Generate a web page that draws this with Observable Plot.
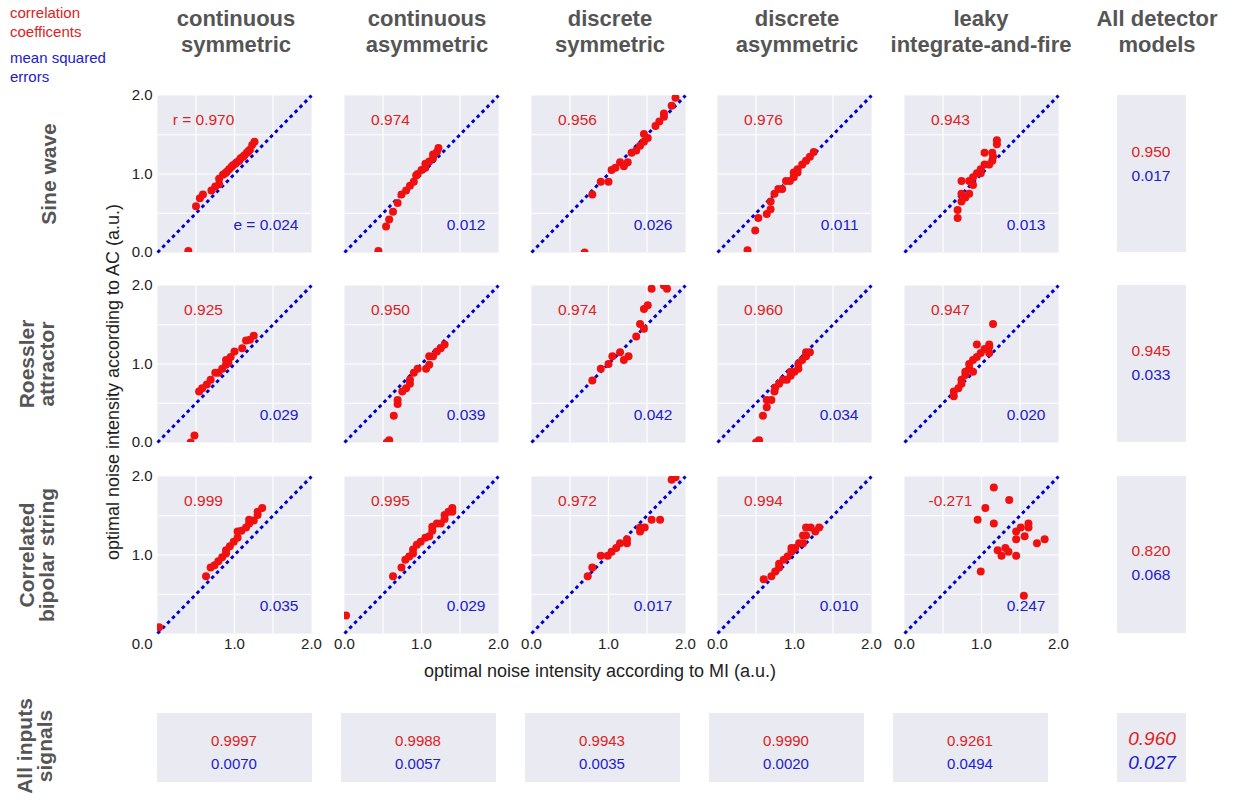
<!DOCTYPE html>
<html>
<head>
<meta charset="utf-8">
<script src="https://cdn.jsdelivr.net/npm/d3@7"></script>
<script src="https://cdn.jsdelivr.net/npm/@observablehq/plot@0.6"></script>
<style>
  html, body { margin: 0; padding: 0; background: #fff; }
  #root { position: relative; width: 1237px; height: 800px; overflow: hidden; font-family: "Liberation Sans", Arial, sans-serif; }
  .abs { position: absolute; white-space: nowrap; }
  .rot { transform: translate(-50%, -50%) rotate(-90deg); text-align: center; }
  .box { position: absolute; background: #EAEAF2; }
  svg { max-width: none !important; }
</style>
</head>
<body>
<div id="root"></div>
<script>
// ---------------- data ----------------
const signals = ["Sine wave", "Roessler\nattractor", "Correlated\nbipolar string"];
const models = ["continuous\nsymmetric", "continuous\nasymmetric", "discrete\nsymmetric", "discrete\nasymmetric", "leaky\nintegrate-and-fire"];
const axisTickValues = [0, 1, 2];
const gridValues = [0.5, 1, 1.5];
const diagonal = [0, 2];

// points: [optimal noise by MI, optimal noise by AC]
const sineContSym = [[0.40,0.02],[0.50,0.59],[0.55,0.69],[0.59,0.74],[0.70,0.79],[0.75,0.84],[0.80,0.87],[0.80,0.94],[0.85,0.99],[0.88,1.01],[0.90,1.03],[0.93,1.06],[0.96,1.09],[0.98,1.11],[1.01,1.13],[1.03,1.15],[1.06,1.17],[1.08,1.20],[1.11,1.22],[1.13,1.24],[1.16,1.27],[1.18,1.29],[1.20,1.31],[1.23,1.37],[1.26,1.41]];
const sineContAsym = [[0.44,0.02],[0.54,0.33],[0.58,0.42],[0.63,0.52],[0.69,0.63],[0.74,0.74],[0.80,0.79],[0.85,0.85],[0.90,0.90],[0.93,0.98],[0.95,1.00],[1.00,1.05],[1.05,1.08],[1.05,1.13],[1.10,1.16],[1.15,1.20],[1.15,1.25],[1.20,1.28],[1.22,1.33]];
const sineDiscSym = [[0.69,0.00],[0.79,0.74],[0.90,0.90],[1.00,0.90],[1.04,1.05],[1.09,1.08],[1.15,1.15],[1.20,1.10],[1.25,1.15],[1.30,1.27],[1.36,1.30],[1.41,1.36],[1.46,1.51],[1.46,1.41],[1.51,1.46],[1.61,1.61],[1.66,1.67],[1.72,1.73],[1.72,1.77],[1.82,1.87],[1.87,1.97]];
const sineDiscAsym = [[0.39,0.03],[0.49,0.28],[0.53,0.44],[0.64,0.49],[0.69,0.55],[0.69,0.65],[0.74,0.75],[0.79,0.81],[0.84,0.81],[0.89,0.91],[0.94,0.91],[0.99,0.96],[0.99,1.02],[1.04,1.06],[1.04,1.02],[1.10,1.12],[1.15,1.17],[1.20,1.22],[1.25,1.28]];
const sineLIF = [[0.69,0.44],[0.69,0.54],[0.74,0.65],[0.74,0.75],[0.74,0.91],[0.79,0.70],[0.84,0.75],[0.84,0.91],[0.89,0.86],[0.89,0.96],[0.94,1.01],[0.99,1.06],[0.99,1.01],[1.04,1.12],[1.04,1.27],[1.10,1.12],[1.14,1.17],[1.15,1.22],[1.14,1.27],[1.20,1.38],[1.20,1.43]];

const roessContSym = [[0.43,0.00],[0.48,0.09],[0.54,0.65],[0.58,0.69],[0.64,0.74],[0.69,0.80],[0.75,0.89],[0.79,0.89],[0.84,0.94],[0.89,0.99],[0.89,1.05],[0.92,1.02],[0.95,1.09],[1.00,1.16],[1.10,1.20],[1.15,1.30],[1.20,1.31],[1.25,1.36]];
const roessContAsym = [[0.55,0.00],[0.58,0.03],[0.64,0.34],[0.69,0.49],[0.69,0.54],[0.75,0.65],[0.80,0.69],[0.85,0.75],[0.85,0.80],[0.90,0.89],[0.95,0.94],[1.06,0.94],[1.10,0.99],[1.10,1.10],[1.15,1.10],[1.20,1.16],[1.25,1.20],[1.30,1.25]];
const roessDiscSym = [[0.79,0.79],[0.90,0.94],[1.00,1.00],[1.05,1.10],[1.15,1.15],[1.20,1.05],[1.26,1.10],[1.36,1.35],[1.41,1.51],[1.46,1.45],[1.46,1.70],[1.51,1.75],[1.56,1.96],[1.72,2.00],[1.76,1.96]];
const roessDiscAsym = [[0.50,0.00],[0.54,0.03],[0.59,0.34],[0.64,0.45],[0.64,0.54],[0.70,0.54],[0.74,0.65],[0.75,0.70],[0.80,0.75],[0.85,0.80],[0.90,0.80],[0.95,0.85],[0.95,0.90],[1.00,0.90],[1.05,0.94],[1.05,1.00],[1.10,1.05],[1.15,1.10],[1.15,1.15],[1.20,1.15]];
const roessLIF = [[0.64,0.59],[0.64,0.65],[0.70,0.69],[0.74,0.75],[0.74,0.80],[0.79,0.86],[0.79,0.90],[0.84,0.94],[0.84,1.00],[0.89,0.90],[0.89,1.05],[0.94,1.09],[0.94,1.25],[0.99,1.14],[1.04,1.19],[1.10,1.22],[1.10,1.14],[1.10,1.25],[1.15,1.51]];

const bipContSym = [[0.02,0.08],[0.63,0.73],[0.69,0.84],[0.74,0.87],[0.79,0.92],[0.84,0.97],[0.89,1.06],[0.89,1.02],[0.94,1.11],[0.99,1.17],[1.04,1.22],[1.04,1.30],[1.09,1.31],[1.15,1.35],[1.19,1.40],[1.19,1.45],[1.25,1.44],[1.30,1.51],[1.30,1.55],[1.36,1.60]];
const bipContAsym = [[0.02,0.23],[0.63,0.73],[0.74,0.84],[0.79,0.94],[0.84,0.98],[0.89,1.07],[0.89,1.02],[0.94,1.13],[0.99,1.17],[1.05,1.22],[1.10,1.24],[1.14,1.31],[1.14,1.36],[1.20,1.40],[1.25,1.40],[1.30,1.46],[1.30,1.51],[1.35,1.55],[1.40,1.60],[1.40,1.55]];
const bipDiscSym = [[0.73,0.73],[0.79,0.84],[0.90,0.99],[0.99,0.99],[1.04,1.04],[1.10,1.09],[1.15,1.15],[1.24,1.15],[1.24,1.20],[1.41,1.30],[1.41,1.35],[1.47,1.35],[1.56,1.45],[1.67,1.45],[1.82,1.96],[1.87,1.99]];
const bipDiscAsym = [[0.60,0.69],[0.70,0.73],[0.75,0.79],[0.80,0.84],[0.80,0.89],[0.86,0.94],[0.91,0.98],[0.96,1.04],[0.96,1.09],[1.01,1.09],[1.06,1.15],[1.11,1.15],[1.11,1.25],[1.15,1.25],[1.15,1.35],[1.21,1.35],[1.27,1.30],[1.32,1.35]];
const bipLIF = [[0.95,1.45],[0.99,0.79],[1.05,1.60],[1.16,1.86],[1.16,1.40],[1.21,1.06],[1.26,0.99],[1.31,1.09],[1.35,1.04],[1.36,1.70],[1.45,1.30],[1.45,1.20],[1.45,0.99],[1.51,1.35],[1.55,0.48],[1.56,1.24],[1.61,1.40],[1.61,1.35],[1.72,1.15],[1.82,1.20]];

// correlation coefficients (r) and mean squared errors (e) per signal row
const corrSine = [0.970, 0.974, 0.956, 0.976, 0.943];
const mseSine = [0.024, 0.012, 0.026, 0.011, 0.013];
const corrRoessler = [0.925, 0.950, 0.974, 0.960, 0.947];
const mseRoessler = [0.029, 0.039, 0.042, 0.034, 0.020];
const corrBipolar = [0.999, 0.995, 0.972, 0.994, -0.271];
const mseBipolar = [0.035, 0.029, 0.017, 0.010, 0.247];

// summaries
const corrAllModels = [0.950, 0.945, 0.820];
const mseAllModels = [0.017, 0.033, 0.068];
const corrAllSignals = [0.9997, 0.9988, 0.9943, 0.9990, 0.9261];
const mseAllSignals = [0.0070, 0.0057, 0.0035, 0.0020, 0.0494];
const corrGrand = 0.960;
const mseGrand = 0.027;

// ---------------- layout ----------------
const FONT = "'Liberation Sans', Arial, sans-serif";
const RED = "#dd2222";
const BLUE = "#2020cc";
const BG = "#EAEAF2";
const TITLE = "#555555";
const root = document.getElementById("root");

const panelLeft = [157, 344, 531, 717, 904];
const panelTop = [95, 285, 476];
const PW = 154, PH = 157;
const rowPoints = [
  [sineContSym, sineContAsym, sineDiscSym, sineDiscAsym, sineLIF],
  [roessContSym, roessContAsym, roessDiscSym, roessDiscAsym, roessLIF],
  [bipContSym, bipContAsym, bipDiscSym, bipDiscAsym, bipLIF]
];
const rowCorr = [corrSine, corrRoessler, corrBipolar];
const rowMse = [mseSine, mseRoessler, mseBipolar];
const hy = s => s.replace("\u2212", "-");
const f3 = v => hy(d3.format(".3f")(v)), f4 = v => hy(d3.format(".4f")(v)), f1 = d3.format(".1f");

function addDiv(text, css, cls) {
  const d = document.createElement("div");
  d.className = "abs " + (cls || "");
  d.textContent = text;
  Object.assign(d.style, css);
  root.appendChild(d);
  return d;
}

function makePanel(pts, rText, eText, row, col) {
  const ml = 45, mr = 15, mt = 4, mb = 28;
  const corner = row === 2 && col === 0; // shared "0.0" label sits lower, at the corner
  const marks = [
    Plot.frame({ fill: BG, stroke: "none" }),
    Plot.ruleX(gridValues, { stroke: "#ffffff", strokeWidth: 1.2 }),
    Plot.ruleY(gridValues, { stroke: "#ffffff", strokeWidth: 1.2 }),
    Plot.line(diagonal, { x: d => d, y: d => d, stroke: "#0000cc", strokeWidth: 3, strokeDasharray: "3.5,3.5", strokeLinecap: "butt" }),
    Plot.dot(pts, { x: d => d[0], y: d => d[1], r: 4, fill: "#f01010", stroke: "none", clip: true }),
    Plot.text([rText], { frameAnchor: "top", lineAnchor: "middle", dx: -31, dy: 25, text: d => d, fill: RED, fontSize: 15.5 }),
    Plot.text([eText], { frameAnchor: "bottom-right", lineAnchor: "middle", textAnchor: "end", dx: -13, dy: -27, text: d => d, fill: BLUE, fontSize: 15.5 })
  ];
  if (corner) {
    marks.push(Plot.text([f1(axisTickValues[0])], { frameAnchor: "bottom-left", lineAnchor: "middle", textAnchor: "end", dx: -5, dy: 11, text: d => d, fill: "#222", fontSize: 15 }));
  }
  const chart = Plot.plot({
    width: PW + ml + mr, height: PH + mt + mb,
    marginLeft: ml, marginRight: mr, marginTop: mt, marginBottom: mb,
    style: { fontSize: "15px", fontFamily: FONT, color: "#222", background: "transparent", overflow: "visible" },
    x: { domain: [0, 2], axis: row === 2 ? "bottom" : null, ticks: col === 0 ? axisTickValues.slice(1) : axisTickValues, tickFormat: f1, tickSize: 0, tickPadding: 5, label: null },
    y: { domain: [0, 2], axis: col === 0 ? "left" : null, ticks: corner ? axisTickValues.slice(1) : axisTickValues, tickFormat: f1, tickSize: 0, tickPadding: 5, label: null },
    marks
  });
  chart.style.position = "absolute";
  chart.style.left = (panelLeft[col] - ml) + "px";
  chart.style.top = (panelTop[row] - mt) + "px";
  root.appendChild(chart);
}

for (let r = 0; r < 3; r++) {
  for (let c = 0; c < 5; c++) {
    const rv = f3(rowCorr[r][c]), ev = f3(rowMse[r][c]);
    makePanel(rowPoints[r][c], (r === 0 && c === 0) ? "r = " + rv : rv, (r === 0 && c === 0) ? "e = " + ev : ev, r, c);
  }
}

// legend (top-left)
addDiv("correlation\ncoefficents", { left: "10px", top: "3px", fontSize: "15px", lineHeight: "19px", color: RED, whiteSpace: "pre" });
addDiv("mean squared\nerrors", { left: "10px", top: "48px", fontSize: "15px", lineHeight: "19px", color: BLUE, whiteSpace: "pre" });

// column titles
const titleCenters = [236, 427, 610, 797, 981];
const titleCss = { top: "6px", transform: "translateX(-50%)", textAlign: "center", fontSize: "22px", lineHeight: "26px", fontWeight: "bold", color: TITLE, whiteSpace: "pre" };
models.forEach((m, i) => {
  addDiv(m, Object.assign({ left: titleCenters[i] + "px" }, titleCss));
});
addDiv("All detector\nmodels", Object.assign({ left: "1157px" }, titleCss));

// row labels
const rowLabelX = [49, 37, 37];
const rowCss = { fontSize: "21px", lineHeight: "20px", fontWeight: "bold", color: TITLE, whiteSpace: "pre" };
signals.forEach((s, i) => {
  addDiv(s, Object.assign({ left: rowLabelX[i] + "px", top: (panelTop[i] + PH / 2) + "px" }, rowCss), "rot");
});
addDiv("All inputs\nsignals", Object.assign({ left: "35px", top: "746px" }, rowCss), "rot");

// shared axis labels
addDiv("optimal noise intensity according to AC (a.u.)", { left: "113px", top: "382px", fontSize: "18px", color: "#222" }, "rot");
addDiv("optimal noise intensity according to MI (a.u.)", { left: "600px", top: "671px", transform: "translate(-50%,-50%)", fontSize: "18px", color: "#222" });

// right summary boxes
for (let r = 0; r < 3; r++) {
  const b = document.createElement("div");
  b.className = "box";
  Object.assign(b.style, { left: "1117px", top: panelTop[r] + "px", width: "69px", height: PH + "px" });
  root.appendChild(b);
  const cy = [152, 351, 551][r];
  addDiv(f3(corrAllModels[r]), { left: "1151px", top: cy + "px", transform: "translate(-50%,-50%)", fontSize: "15.5px", color: RED });
  addDiv(f3(mseAllModels[r]), { left: "1151px", top: (cy + 24) + "px", transform: "translate(-50%,-50%)", fontSize: "15.5px", color: BLUE });
}

// bottom summary boxes
const bottomLeft = [157, 341, 525, 709, 893];
for (let c = 0; c < 5; c++) {
  const b = document.createElement("div");
  b.className = "box";
  Object.assign(b.style, { left: bottomLeft[c] + "px", top: "713px", width: "155px", height: "69px" });
  root.appendChild(b);
  const cx = bottomLeft[c] + 77;
  addDiv(f4(corrAllSignals[c]), { left: cx + "px", top: "740px", transform: "translate(-50%,-50%)", fontSize: "15px", color: RED });
  addDiv(f4(mseAllSignals[c]), { left: cx + "px", top: "763px", transform: "translate(-50%,-50%)", fontSize: "15px", color: BLUE });
}
{
  const b = document.createElement("div");
  b.className = "box";
  Object.assign(b.style, { left: "1117px", top: "713px", width: "69px", height: "69px" });
  root.appendChild(b);
  addDiv(f3(corrGrand), { left: "1152px", top: "739px", transform: "translate(-50%,-50%)", fontSize: "19px", fontStyle: "italic", color: RED });
  addDiv(f3(mseGrand), { left: "1152px", top: "763px", transform: "translate(-50%,-50%)", fontSize: "19px", fontStyle: "italic", color: BLUE });
}
</script>
</body>
</html>
